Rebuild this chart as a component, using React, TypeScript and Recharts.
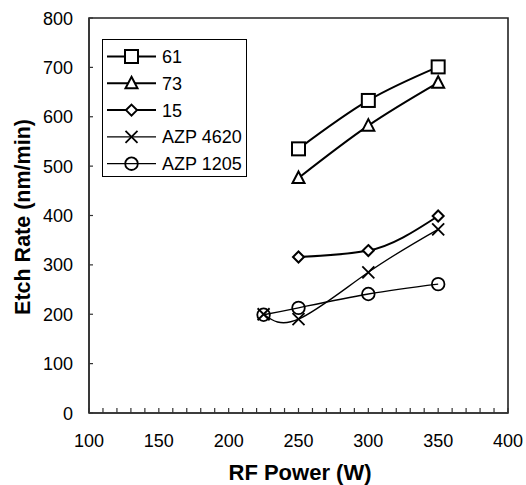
import React from 'react';
import { LineChart, Line, XAxis, YAxis, ReferenceArea, Legend } from 'recharts';

// RF power (W) for each group of samples
const powersPolymer = [250, 300, 350];
const powersAzp = [225, 250, 300, 350];

// etch rate (nm/min)
const rate61 = [535, 633, 701];
const rate73 = [476, 582, 669];
const rate15 = [316, 329, 399];
const rateAzp4620 = [200, 190, 285, 372];
const rateAzp1205 = [199, 213, 241, 261];

const xTicks = [100, 110, 120, 130, 140, 150, 160, 170, 180, 190, 200, 210, 220, 230, 240, 250,
  260, 270, 280, 290, 300, 310, 320, 330, 340, 350, 360, 370, 380, 390, 400];
const xLabels = [100, 150, 200, 250, 300, 350, 400];
const yTicks = [0, 100, 200, 300, 400, 500, 600, 700, 800];

const FONT = '"Liberation Sans", Arial, sans-serif';

type Marker = 'square' | 'triangle' | 'diamond' | 'cross' | 'circle';

const toPoints = (xs: number[], ys: number[]) => xs.map((x, i) => ({ x, y: ys[i] }));

const series = [
  { name: '61', data: toPoints(powersPolymer, rate61), marker: 'square' as Marker, width: 2 },
  { name: '73', data: toPoints(powersPolymer, rate73), marker: 'triangle' as Marker, width: 2 },
  { name: '15', data: toPoints(powersPolymer, rate15), marker: 'diamond' as Marker, width: 2 },
  { name: 'AZP 4620', data: toPoints(powersAzp, rateAzp4620), marker: 'cross' as Marker, width: 1.3 },
  { name: 'AZP 1205', data: toPoints(powersAzp, rateAzp1205), marker: 'circle' as Marker, width: 1.3 },
];

function drawMarker(kind: Marker, cx: number, cy: number, key?: string) {
  const st = { stroke: '#000', strokeWidth: 2, fill: '#fff' };
  switch (kind) {
    case 'square':
      return <rect key={key} x={cx - 6.5} y={cy - 6.5} width={13} height={13} {...st} />;
    case 'triangle':
      return <polygon key={key} points={`${cx},${cy - 6.5} ${cx + 6},${cy + 5} ${cx - 6},${cy + 5}`} {...st} />;
    case 'diamond':
      return <polygon key={key} points={`${cx},${cy - 5.5} ${cx + 5.5},${cy} ${cx},${cy + 5.5} ${cx - 5.5},${cy}`} {...st} />;
    case 'cross':
      return (
        <g key={key}>
          <line x1={cx - 6} y1={cy - 6} x2={cx + 6} y2={cy + 6} stroke="#000" strokeWidth={1.8} />
          <line x1={cx - 6} y1={cy + 6} x2={cx + 6} y2={cy - 6} stroke="#000" strokeWidth={1.8} />
        </g>
      );
    default:
      return <circle key={key} cx={cx} cy={cy} r={6.3} stroke="#000" strokeWidth={1.8} fill="none" />;
  }
}

const XTick = (props: any) => {
  const { x, y, payload } = props;
  const v = payload.value;
  return (
    <g>
      <line x1={x} y1={y} x2={x} y2={y - 5} stroke="#333" strokeWidth={1.2} />
      {xLabels.includes(v) && (
        <text x={x} y={y + 33.5} textAnchor="middle" fontSize={18} fontFamily={FONT} fill="#000">
          {v}
        </text>
      )}
    </g>
  );
};

const YTick = (props: any) => {
  const { x, y, payload } = props;
  return (
    <g>
      <line x1={x} y1={y} x2={x + 4} y2={y} stroke="#333" strokeWidth={1.2} />
      <text x={x - 16} y={y + 6.5} textAnchor="end" fontSize={18} fontFamily={FONT} fill="#000">
        {payload.value}
      </text>
    </g>
  );
};

const LegendBox = () => (
  <svg width={146} height={140} style={{ display: 'block' }}>
    <rect x={0.5} y={0.5} width={144} height={137} fill="#fff" stroke="#000" strokeWidth={1} />
    {series.map((s, i) => {
      const cy = 17.5 + i * 26.8;
      return (
        <g key={s.name}>
          <line x1={5} y1={cy} x2={54} y2={cy} stroke="#000" strokeWidth={s.width} />
          {drawMarker(s.marker, 29.5, cy)}
          <text x={60} y={cy + 6.5} fontSize={18} fontFamily={FONT} fill="#000">
            {s.name}
          </text>
        </g>
      );
    })}
  </svg>
);

export default function App() {
  return (
    <div style={{ position: 'absolute', left: 0, top: 0, width: 526, height: 485, background: '#fff' }}>
      <LineChart width={526} height={485} margin={{ top: 18, right: 18, bottom: 0, left: 0 }}>
        <XAxis
          type="number"
          dataKey="x"
          domain={[100, 400]}
          ticks={xTicks}
          interval={0}
          tick={<XTick />}
          tickLine={false}
          tickSize={0}
          tickMargin={0}
          height={72}
          axisLine={{ stroke: '#333', strokeWidth: 1.5 }}
          allowDuplicatedCategory={false}
        />
        <YAxis
          type="number"
          domain={[0, 800]}
          ticks={yTicks}
          interval={0}
          tick={<YTick />}
          tickLine={false}
          tickSize={0}
          tickMargin={0}
          width={89}
          axisLine={{ stroke: '#333', strokeWidth: 1.5 }}
        />
        <ReferenceArea x1={100} x2={400} y1={0} y2={800} fill="none" stroke="#222" strokeWidth={1.6} ifOverflow="visible" />
        {series.map((s) => (
          <Line
            key={s.name}
            data={s.data}
            dataKey="y"
            name={s.name}
            type={s.marker === 'cross' || s.marker === 'circle' ? 'natural' : 'monotone'}
            stroke="#000"
            strokeWidth={s.width}
            isAnimationActive={false}
            dot={(p: any) => drawMarker(s.marker, p.cx, p.cy, `${s.name}-${p.index}`)}
            activeDot={false}
          />
        ))}
        <Legend
          layout="vertical"
          align="center"
          verticalAlign="middle"
          content={() => <LegendBox />}
          wrapperStyle={{ position: 'absolute', left: 102, top: 39, width: 146, height: 140 }}
        />
        <text x={300} y={480} textAnchor="middle" fontSize={22} fontWeight="bold" fontFamily={FONT} fill="#000">
          RF Power (W)
        </text>
        <text
          x={30}
          y={217}
          transform="rotate(-90 30 217)"
          textAnchor="middle"
          fontSize={21.5}
          fontWeight="bold"
          fontFamily={FONT}
          fill="#000"
        >
          Etch Rate (nm/min)
        </text>
      </LineChart>
    </div>
  );
}
